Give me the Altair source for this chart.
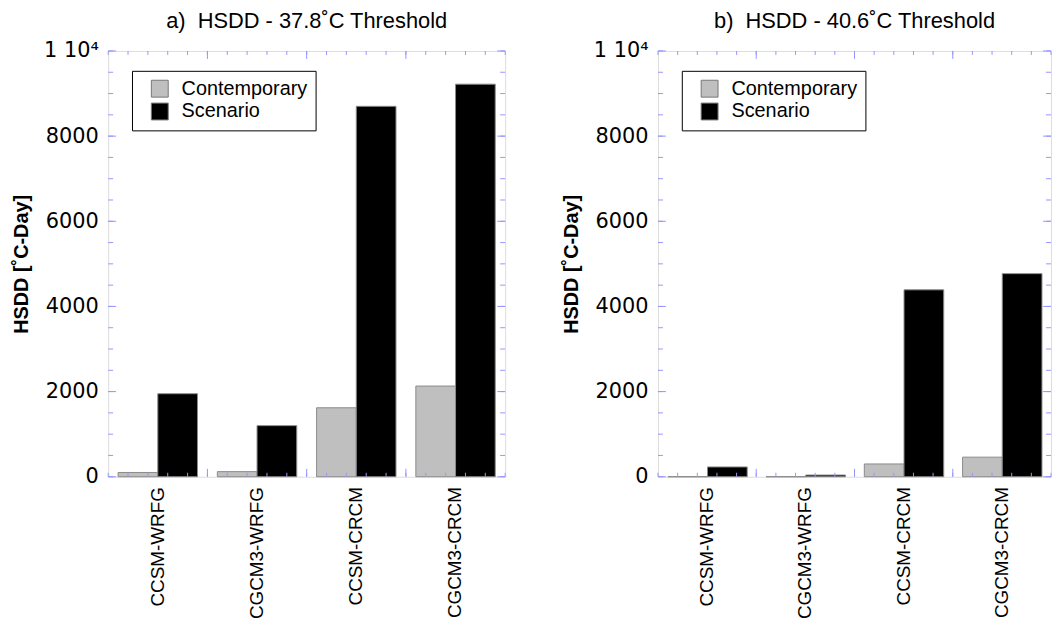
import altair as alt
import pandas as pd

models = ["CCSM-WRFG", "CGCM3-WRFG", "CCSM-CRCM", "CGCM3-CRCM"]
series = ["Contemporary", "Scenario"]

a_contemporary = [100, 120, 1620, 2130]
a_scenario = [1950, 1200, 8700, 9220]

b_contemporary = [0, 0, 300, 460]
b_scenario = [230, 40, 4390, 4770]

y_major = [0, 2000, 4000, 6000, 8000, 10000]
y_minor = list(range(0, 10001, 500))
x_positions = list(range(0, 21))
x_major = [5, 10, 15]

FRAME = "#9696ff"
H = 429


def y_enc():
    return alt.Y("value:Q", scale=alt.Scale(domain=[0, 10000], nice=False),
                 axis=alt.Axis(values=y_major, format="d",
                               labelExpr="datum.value == 10000 ? '1 10\u2074' : datum.label",
                               title="HSDD [\u02daC-Day]", titleFontSize=20,
                               titleFont="Liberation Sans", titleFontWeight="bold",
                               titleColor="black", titlePadding=12,
                               labelFontSize=21, labelFont="DejaVu Sans",
                               labelColor="black", labelPadding=10, tickSize=0,
                               domain=False, grid=False))


def panel(title, contemp, scen, width):
    df = pd.DataFrame({
        "model": models * 2,
        "series": [series[0]] * 4 + [series[1]] * 4,
        "value": contemp + scen,
    })
    bars = alt.Chart(df).mark_bar(stroke="#8a8a8a", strokeWidth=1).encode(
        x=alt.X("model:N", sort=models,
                scale=alt.Scale(paddingInner=0.2, paddingOuter=0.1),
                axis=alt.Axis(title=None, labelAngle=-90, labelFontSize=19,
                              labelFont="Liberation Sans", labelColor="black",
                              labelPadding=10, tickSize=0, domain=False,
                              labelLimit=400)),
        xOffset=alt.XOffset("series:N", sort=series),
        y=y_enc(),
        color=alt.Color("series:N",
                        scale=alt.Scale(domain=series, range=["#bfbfbf", "#000000"]),
                        legend=alt.Legend(title=None, orient="none", legendX=24, legendY=20,
                                          labelFontSize=20, labelFont="Liberation Sans",
                                          labelColor="black",
                                          symbolType="square", symbolSize=289,
                                          symbolStrokeColor="#777", symbolStrokeWidth=1,
                                          symbolOffset=10, labelOffset=12,
                                          padding=8, rowPadding=1,
                                          strokeColor="black", fillColor="white")),
    )

    ydf = pd.DataFrame({"value": y_minor})
    ymaj = pd.DataFrame({"value": y_major})
    xdf = pd.DataFrame({"p": x_positions})
    xmaj = pd.DataFrame({"p": x_major})

    xax = alt.X("p:Q", scale=alt.Scale(domain=[0, 20], nice=False), axis=None)

    layers = [
        alt.Chart(ydf).mark_rule(color=FRAME, strokeWidth=1).encode(
            y=y_enc(), x=alt.value(0), x2=alt.value(5)),
        alt.Chart(ydf).mark_rule(color=FRAME, strokeWidth=1).encode(
            y=y_enc(), x=alt.value(width - 5), x2=alt.value(width)),
        alt.Chart(ymaj).mark_rule(color=FRAME, strokeWidth=1).encode(
            y=y_enc(), x=alt.value(0), x2=alt.value(8)),
        alt.Chart(ymaj).mark_rule(color=FRAME, strokeWidth=1).encode(
            y=y_enc(), x=alt.value(width - 8), x2=alt.value(width)),
        alt.Chart(xdf).mark_rule(color=FRAME, strokeWidth=1).encode(
            x=xax, y=alt.value(0), y2=alt.value(4)),
        alt.Chart(xdf).mark_rule(color=FRAME, strokeWidth=1).encode(
            x=xax, y=alt.value(H - 4), y2=alt.value(H)),
        alt.Chart(xmaj).mark_rule(color=FRAME, strokeWidth=1).encode(
            x=xax, y=alt.value(0), y2=alt.value(8)),
        alt.Chart(xmaj).mark_rule(color=FRAME, strokeWidth=1).encode(
            x=xax, y=alt.value(H - 8), y2=alt.value(H)),
    ]

    return alt.layer(bars, *layers).resolve_scale(x="independent").properties(
        width=width, height=H,
        title=alt.TitleParams(text=title, fontSize=22, fontWeight="normal",
                              font="Liberation Sans", color="black",
                              anchor="middle", offset=7),
    )


left = panel("a)\u00a0 HSDD - 37.8\u02daC Threshold", a_contemporary, a_scenario, 400)
right = panel("b)\u00a0 HSDD - 40.6\u02daC Threshold", b_contemporary, b_scenario, 396)

chart = alt.hconcat(left, right, spacing=55).resolve_scale(
    color="independent", y="independent"
).resolve_legend(color="independent").properties(
    padding={"left": 11, "top": 7, "right": 0, "bottom": 0}
).configure_view(
    stroke=FRAME, strokeWidth=1.5
).configure(background="white")

chart.save("out.html", embed_options={"renderer": "svg", "actions": False})
